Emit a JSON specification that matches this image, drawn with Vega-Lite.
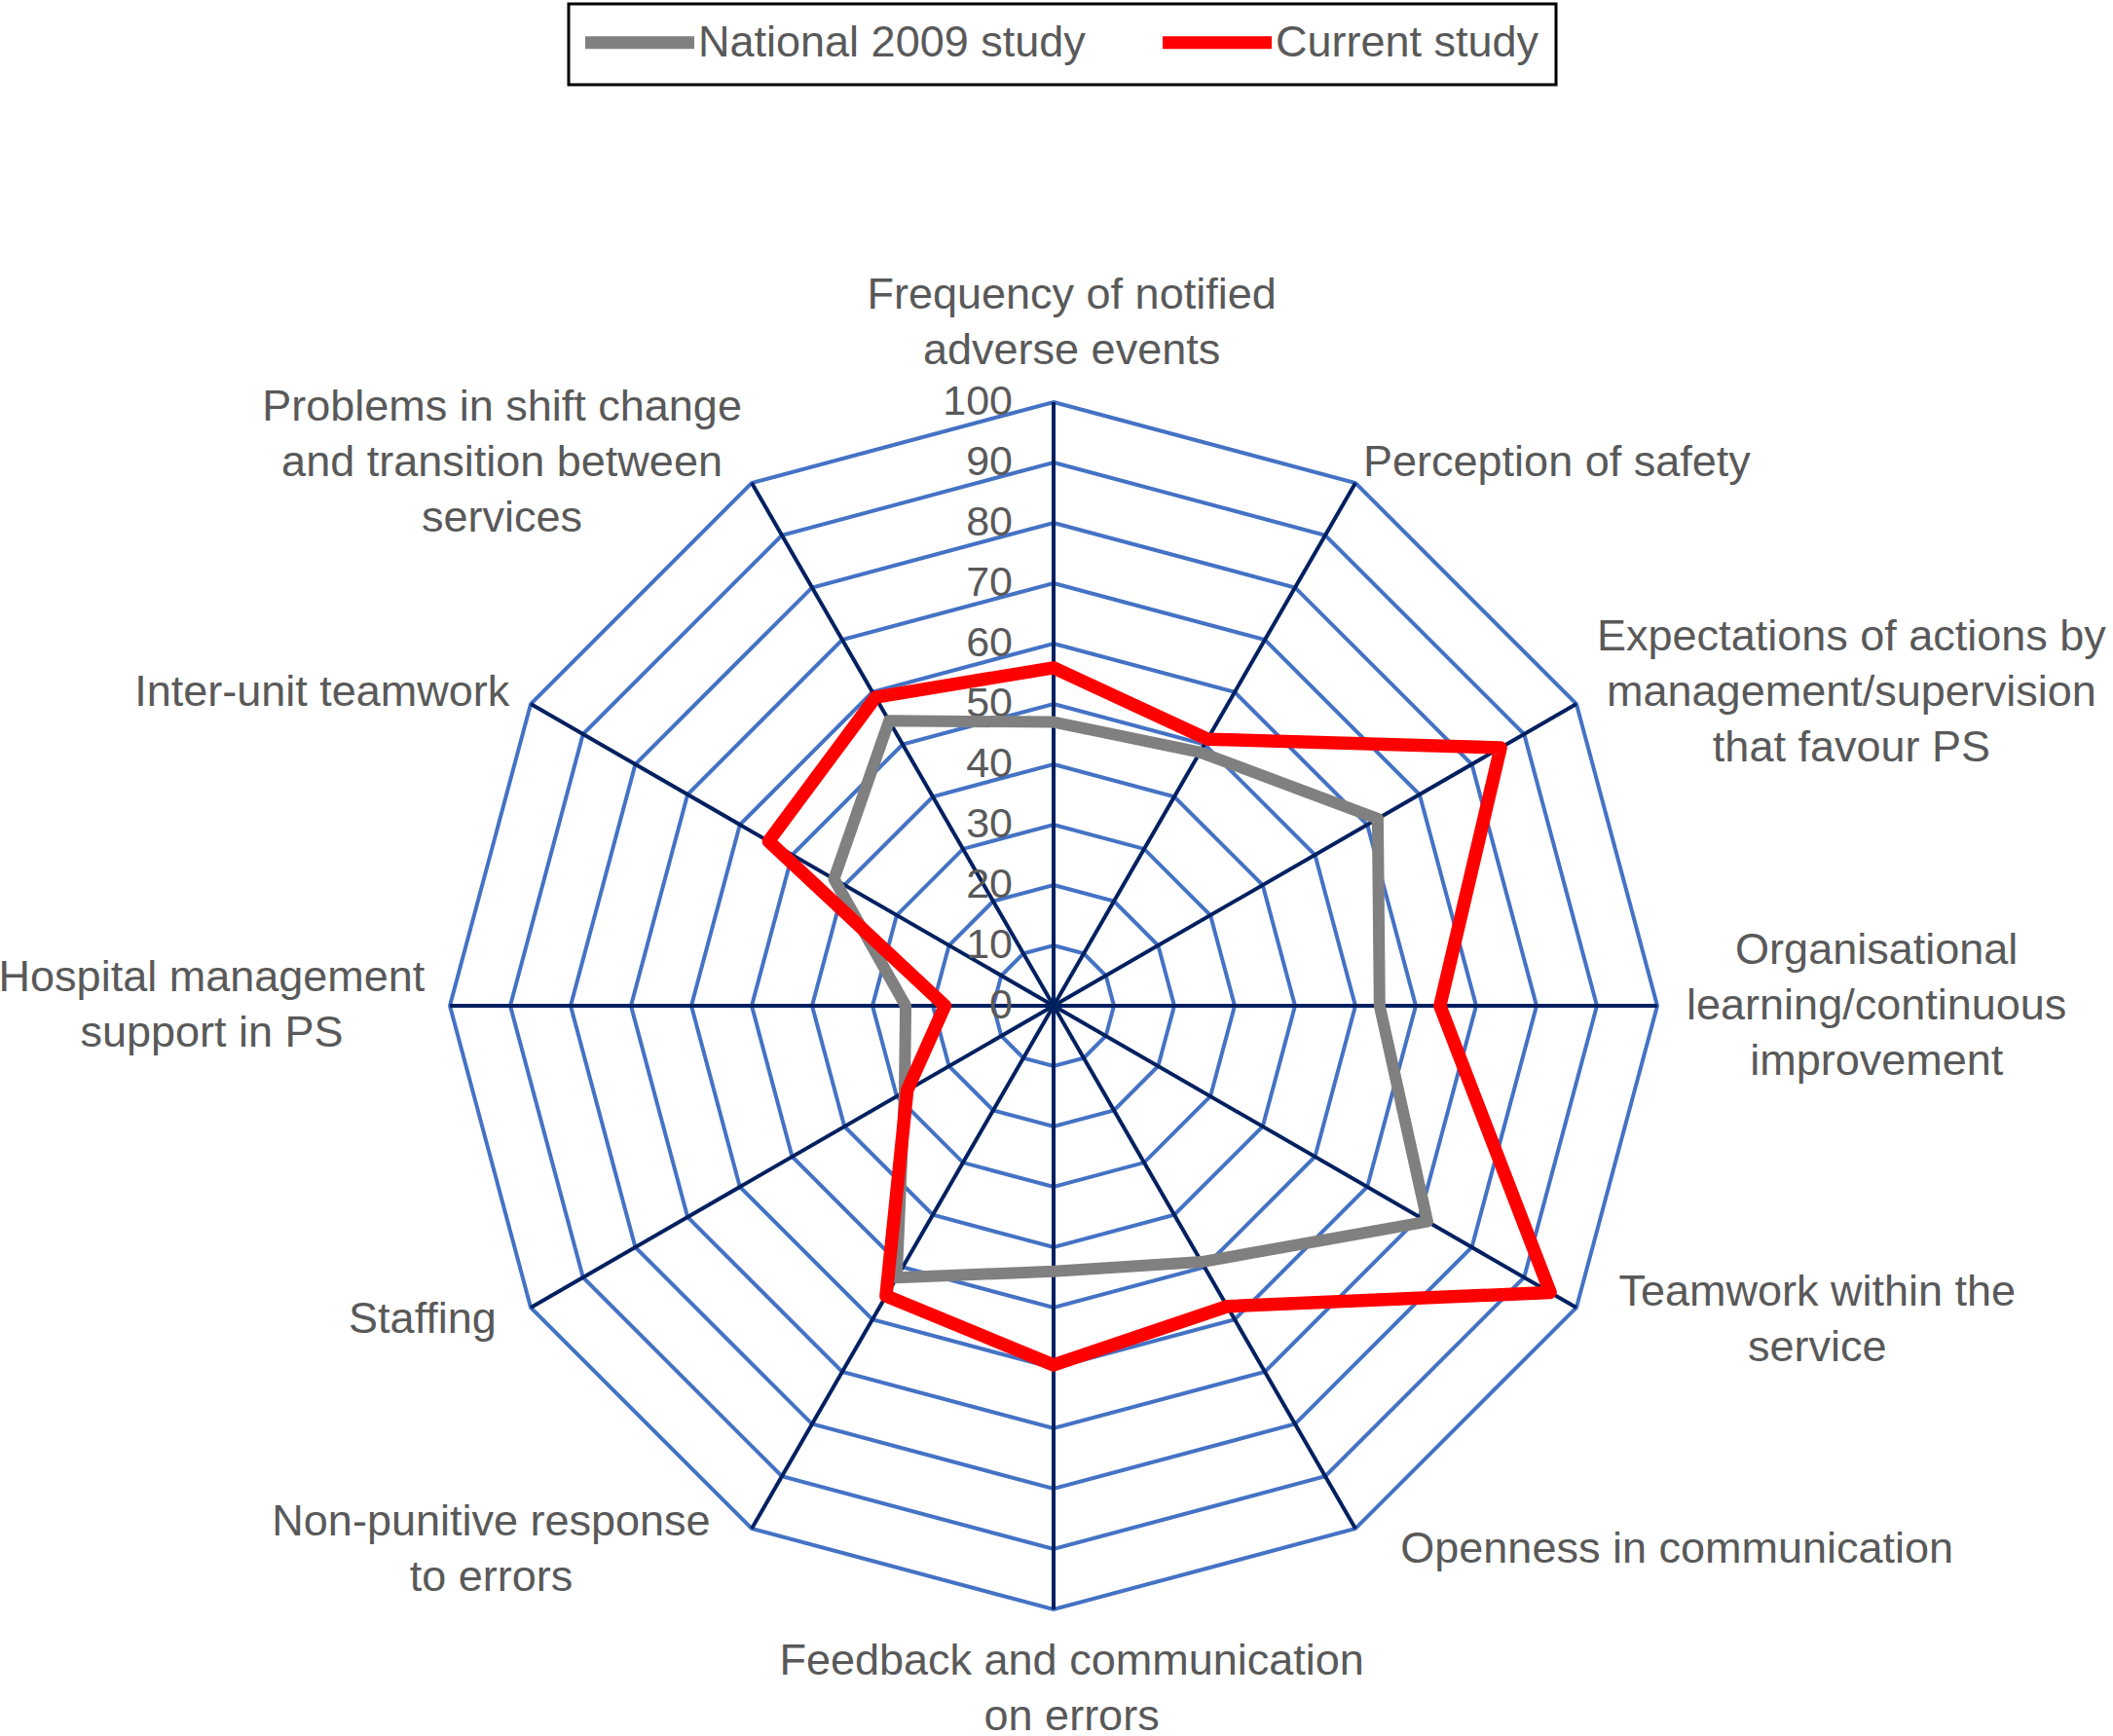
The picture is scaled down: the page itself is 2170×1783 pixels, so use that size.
{
  "$schema": "https://vega.github.io/schema/vega-lite/v6.json",
  "width": 2170,
  "height": 1783,
  "autosize": {"type": "none"},
  "padding": 0,
  "background": "white",
  "config": {
    "view": {"stroke": null},
    "font": "Liberation Sans",
    "legend": {
      "symbolType": "M-1.5,0L5.967,0",
      "symbolSize": 900,
      "symbolStrokeWidth": 13,
      "labelFontSize": 45,
      "labelFont": "Liberation Sans",
      "labelColor": "#595959",
      "labelOffset": 71,
      "labelLimit": 0,
      "columnPadding": 53,
      "padding": 17,
      "strokeColor": "#000000",
      "strokeWidth": 3
    }
  },
  "datasets": {
    "axes": [
      {"k": 0, "label": "Frequency of notified\nadverse events"},
      {"k": 1, "label": "Perception of safety"},
      {"k": 2, "label": "Expectations of actions by\nmanagement/supervision\nthat favour PS"},
      {"k": 3, "label": "Organisational\nlearning/continuous\nimprovement"},
      {"k": 4, "label": "Teamwork within the\nservice"},
      {"k": 5, "label": "Openness in communication"},
      {"k": 6, "label": "Feedback and communication\non errors"},
      {"k": 7, "label": "Non-punitive response\nto errors"},
      {"k": 8, "label": "Staffing"},
      {"k": 9, "label": "Hospital management\nsupport in PS"},
      {"k": 10, "label": "Inter-unit teamwork"},
      {"k": 11, "label": "Problems in shift change\nand transition between\nservices"}
    ],
    "scores": [
      {"k": 0, "series": "National 2009 study", "value": 47},
      {"k": 1, "series": "National 2009 study", "value": 48.5},
      {"k": 2, "series": "National 2009 study", "value": 62},
      {"k": 3, "series": "National 2009 study", "value": 54},
      {"k": 4, "series": "National 2009 study", "value": 71.5},
      {"k": 5, "series": "National 2009 study", "value": 49},
      {"k": 6, "series": "National 2009 study", "value": 44},
      {"k": 7, "series": "National 2009 study", "value": 52},
      {"k": 8, "series": "National 2009 study", "value": 28.5},
      {"k": 9, "series": "National 2009 study", "value": 24.5},
      {"k": 10, "series": "National 2009 study", "value": 42},
      {"k": 11, "series": "National 2009 study", "value": 54.5},
      {"k": 0, "series": "Current study", "value": 56},
      {"k": 1, "series": "Current study", "value": 51},
      {"k": 2, "series": "Current study", "value": 85.5},
      {"k": 3, "series": "Current study", "value": 64},
      {"k": 4, "series": "Current study", "value": 95},
      {"k": 5, "series": "Current study", "value": 57.5},
      {"k": 6, "series": "Current study", "value": 59.5},
      {"k": 7, "series": "Current study", "value": 55.5},
      {"k": 8, "series": "Current study", "value": 28},
      {"k": 9, "series": "Current study", "value": 18},
      {"k": 10, "series": "Current study", "value": 54.5},
      {"k": 11, "series": "Current study", "value": 59}
    ],
    "ticks": [
      {"v": 0}, {"v": 10}, {"v": 20}, {"v": 30}, {"v": 40}, {"v": 50},
      {"v": 60}, {"v": 70}, {"v": 80}, {"v": 90}, {"v": 100}
    ],
    "grid": [
      {"level": 10, "k": [0,1,2,3,4,5,6,7,8,9,10,11]},
      {"level": 20, "k": [0,1,2,3,4,5,6,7,8,9,10,11]},
      {"level": 30, "k": [0,1,2,3,4,5,6,7,8,9,10,11]},
      {"level": 40, "k": [0,1,2,3,4,5,6,7,8,9,10,11]},
      {"level": 50, "k": [0,1,2,3,4,5,6,7,8,9,10,11]},
      {"level": 60, "k": [0,1,2,3,4,5,6,7,8,9,10,11]},
      {"level": 70, "k": [0,1,2,3,4,5,6,7,8,9,10,11]},
      {"level": 80, "k": [0,1,2,3,4,5,6,7,8,9,10,11]},
      {"level": 90, "k": [0,1,2,3,4,5,6,7,8,9,10,11]},
      {"level": 100, "k": [0,1,2,3,4,5,6,7,8,9,10,11]}
    ]
  },
  "layer": [
    {
      "data": {"name": "grid"},
      "transform": [
        {"flatten": ["k"]},
        {"calculate": "datum.level*sin(datum.k*PI/6)", "as": "gx"},
        {"calculate": "datum.level*cos(datum.k*PI/6)", "as": "gy"}
      ],
      "mark": {"type": "line", "interpolate": "linear-closed", "stroke": "#4472C4", "strokeWidth": 4},
      "encoding": {
        "x": {"field": "gx", "type": "quantitative", "scale": {"domain": [-174.516, 175.484], "nice": false, "zero": false}, "axis": null},
        "y": {"field": "gy", "type": "quantitative", "scale": {"domain": [-120.968, 166.613], "nice": false, "zero": false}, "axis": null},
        "detail": {"field": "level", "type": "nominal"},
        "order": {"field": "k", "type": "quantitative"}
      }
    },
    {
      "data": {"name": "axes"},
      "transform": [
        {"calculate": "0", "as": "o"},
        {"calculate": "100*sin(datum.k*PI/6)", "as": "ex"},
        {"calculate": "100*cos(datum.k*PI/6)", "as": "ey"}
      ],
      "mark": {"type": "rule", "stroke": "#002060", "strokeWidth": 4},
      "encoding": {
        "x": {"field": "o", "type": "quantitative", "scale": {"domain": [-174.516, 175.484], "nice": false, "zero": false}, "axis": null},
        "y": {"field": "o", "type": "quantitative", "scale": {"domain": [-120.968, 166.613], "nice": false, "zero": false}, "axis": null},
        "x2": {"field": "ex"},
        "y2": {"field": "ey"}
      }
    },
    {
      "data": {"name": "ticks"},
      "transform": [{"calculate": "0", "as": "o"}],
      "mark": {"type": "text", "align": "right", "baseline": "middle", "dx": -42, "fontSize": 43, "fill": "#595959", "font": "Liberation Sans"},
      "encoding": {
        "x": {"field": "o", "type": "quantitative", "scale": {"domain": [-174.516, 175.484], "nice": false, "zero": false}, "axis": null},
        "y": {"field": "v", "type": "quantitative", "scale": {"domain": [-120.968, 166.613], "nice": false, "zero": false}, "axis": null},
        "text": {"field": "v", "type": "quantitative"}
      }
    },
    {
      "data": {"name": "scores"},
      "transform": [
        {"filter": "datum.series === 'National 2009 study'"},
        {"calculate": "datum.value*sin(datum.k*PI/6)", "as": "px"},
        {"calculate": "datum.value*cos(datum.k*PI/6)", "as": "py"}
      ],
      "mark": {"type": "line", "interpolate": "linear-closed", "strokeWidth": 12, "strokeJoin": "round", "strokeCap": "round"},
      "encoding": {
        "x": {"field": "px", "type": "quantitative", "scale": {"domain": [-174.516, 175.484], "nice": false, "zero": false}, "axis": null},
        "y": {"field": "py", "type": "quantitative", "scale": {"domain": [-120.968, 166.613], "nice": false, "zero": false}, "axis": null},
        "order": {"field": "k", "type": "quantitative"},
        "color": {
          "field": "series", "type": "nominal",
          "scale": {"domain": ["National 2009 study", "Current study"], "range": ["#808080", "#FF0000"]},
          "legend": {"orient": "none", "legendX": 584, "legendY": 4, "direction": "horizontal", "title": null, "labelExpr": "datum.value == 'Current study' ? 'Current study\u00a0\u00a0' : datum.label"}
        }
      }
    },
    {
      "data": {"name": "scores"},
      "transform": [
        {"filter": "datum.series === 'Current study'"},
        {"calculate": "datum.value*sin(datum.k*PI/6)", "as": "px"},
        {"calculate": "datum.value*cos(datum.k*PI/6)", "as": "py"}
      ],
      "mark": {"type": "line", "interpolate": "linear-closed", "strokeWidth": 13.5, "strokeJoin": "round", "strokeCap": "round"},
      "encoding": {
        "x": {"field": "px", "type": "quantitative", "scale": {"domain": [-174.516, 175.484], "nice": false, "zero": false}, "axis": null},
        "y": {"field": "py", "type": "quantitative", "scale": {"domain": [-120.968, 166.613], "nice": false, "zero": false}, "axis": null},
        "order": {"field": "k", "type": "quantitative"},
        "color": {
          "field": "series", "type": "nominal",
          "scale": {"domain": ["National 2009 study", "Current study"], "range": ["#808080", "#FF0000"]},
          "legend": {"orient": "none", "legendX": 584, "legendY": 4, "direction": "horizontal", "title": null, "labelExpr": "datum.value == 'Current study' ? 'Current study\u00a0\u00a0' : datum.label"}
        }
      }
    },
    {
      "data": {"name": "axes"},
      "transform": [
        {"calculate": "sin(datum.k*PI/6)", "as": "s"},
        {"calculate": "cos(datum.k*PI/6)", "as": "c"},
        {"calculate": "split(datum.label, '\\n')", "as": "ln"},
        {"calculate": "length(datum.ln)", "as": "nl"},
        {"calculate": "datum.ln[0]", "as": "l0"},
        {"calculate": "datum.nl > 1 ? datum.ln[1] : ''", "as": "l1"},
        {"calculate": "datum.nl > 2 ? datum.ln[2] : ''", "as": "l2"},
        {"calculate": "0.556*length(datum.l0)-0.3*(length(datum.l0)-length(replace(datum.l0,regexp('[iltfjr /.,-]','g'),'')))+0.28*(length(datum.l0)-length(replace(datum.l0,regexp('[mwMW]','g'),'')))", "as": "e0"},
        {"calculate": "0.556*length(datum.l1)-0.3*(length(datum.l1)-length(replace(datum.l1,regexp('[iltfjr /.,-]','g'),'')))+0.28*(length(datum.l1)-length(replace(datum.l1,regexp('[mwMW]','g'),'')))", "as": "e1"},
        {"calculate": "0.556*length(datum.l2)-0.3*(length(datum.l2)-length(replace(datum.l2,regexp('[iltfjr /.,-]','g'),'')))+0.28*(length(datum.l2)-length(replace(datum.l2,regexp('[mwMW]','g'),'')))", "as": "e2"},
        {"calculate": "max(datum.e0, datum.e1, datum.e2)*45/6.2", "as": "wu"},
        {"calculate": "abs(datum.s) < 0.1 ? 100*datum.s + 3 : 100*datum.s + (datum.s > 0 ? 1 : -1)*((28 - 20*datum.c)/6.2 + datum.wu/2)", "as": "cx"},
        {"calculate": "(abs(datum.s) < 0.1 ? 100*datum.c + datum.c*(3.9 + datum.nl*57/6.2/2) : 104*datum.c) + (datum.nl - 1)*57/6.2/2", "as": "cy"}
      ],
      "mark": {"type": "text", "align": "center", "baseline": "middle", "lineBreak": "\n", "lineHeight": 57, "fontSize": 45, "fill": "#595959", "font": "Liberation Sans"},
      "encoding": {
        "x": {"field": "cx", "type": "quantitative", "scale": {"domain": [-174.516, 175.484], "nice": false, "zero": false}, "axis": null},
        "y": {"field": "cy", "type": "quantitative", "scale": {"domain": [-120.968, 166.613], "nice": false, "zero": false}, "axis": null},
        "text": {"field": "label", "type": "nominal"}
      }
    }
  ]
}
